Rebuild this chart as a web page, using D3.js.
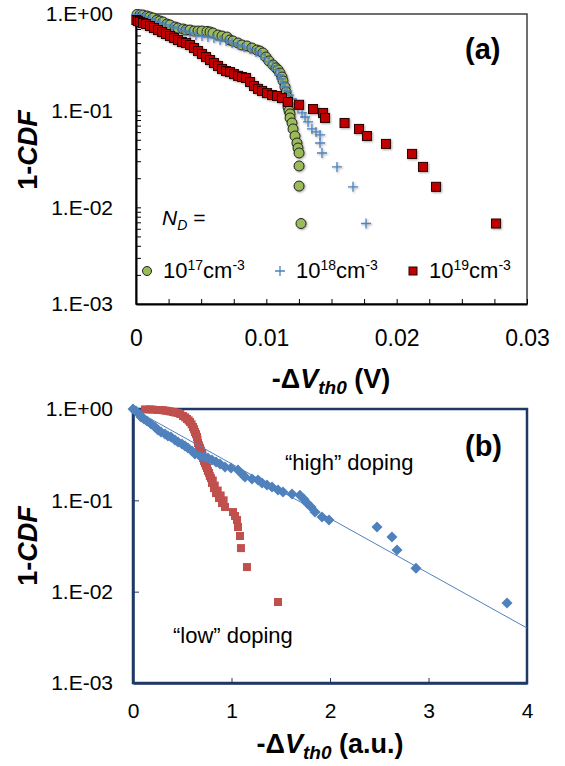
<!DOCTYPE html>
<html>
<head>
<meta charset="utf-8">
<script src="https://cdn.jsdelivr.net/npm/d3@7"></script>
<style>
body { margin: 0; background: #fff; }
svg text { font-family: "Liberation Sans", Arial, sans-serif; fill: #000; }
</style>
</head>
<body>
<div id="chart"></div>
<script>
// panel (a): 1-CDF of -dVth0 (V) for three doping levels
const nd17 = [[0.00008,0.99],[0.00031,0.98],[0.00054,0.976],[0.00084,0.953],[0.00107,0.931],[0.0013,0.909],[0.00161,0.867],[0.00184,0.846],[0.00207,0.827],[0.00238,0.788],[0.00261,0.77],[0.00299,0.734],[0.00322,0.717],[0.00361,0.7],[0.00384,0.683],[0.00414,0.683],[0.00445,0.667],[0.00476,0.667],[0.00506,0.667],[0.00545,0.66],[0.00568,0.651],[0.00591,0.636],[0.00629,0.606],[0.0066,0.592],[0.00698,0.578],[0.00721,0.538],[0.00744,0.526],[0.00783,0.501],[0.00813,0.478],[0.00852,0.467],[0.0089,0.445],[0.00928,0.424],[0.00951,0.414],[0.00974,0.395],[0.00997,0.359],[0.0102,0.327],[0.01051,0.297],[0.01074,0.277],[0.0109,0.264],[0.01105,0.245],[0.0112,0.223],[0.01128,0.203],[0.01143,0.176],[0.01151,0.156],[0.01159,0.139],[0.01159,0.129],[0.01166,0.117],[0.01166,0.109],[0.01174,0.0993],[0.01182,0.0925],[0.01182,0.0841],[0.01197,0.0746],[0.01205,0.0647],[0.0122,0.0547],[0.01235,0.0463],[0.01243,0.0411],[0.01251,0.0365],[0.01251,0.0268],[0.01251,0.0166],[0.01266,0.0068]];
const nd18 = [[0.00008,0.99],[0.00031,0.976],[0.00069,0.931],[0.00107,0.888],[0.00146,0.846],[0.00184,0.807],[0.0023,0.77],[0.00276,0.734],[0.00322,0.7],[0.00368,0.667],[0.00414,0.636],[0.0046,0.606],[0.00506,0.592],[0.00552,0.578],[0.00598,0.565],[0.00645,0.538],[0.00691,0.526],[0.00737,0.501],[0.00783,0.478],[0.00829,0.456],[0.00875,0.435],[0.00921,0.405],[0.00959,0.377],[0.0099,0.351],[0.0102,0.319],[0.01051,0.29],[0.01074,0.264],[0.01097,0.234],[0.01113,0.213],[0.01128,0.193],[0.01143,0.176],[0.01159,0.16],[0.01174,0.145],[0.01197,0.132],[0.0122,0.12],[0.01243,0.109],[0.01274,0.0947],[0.01297,0.086],[0.0132,0.0764],[0.0135,0.0647],[0.01381,0.0602],[0.01412,0.0561],[0.01412,0.0463],[0.01427,0.0365],[0.01542,0.0262],[0.01665,0.0163],[0.01765,0.0068]];
const nd19 = [[0.00003,0.867],[0.00015,0.846],[0.00031,0.827],[0.00054,0.807],[0.00077,0.788],[0.00107,0.751],[0.00138,0.717],[0.00169,0.683],[0.002,0.651],[0.0023,0.621],[0.00261,0.592],[0.00292,0.565],[0.00322,0.538],[0.00353,0.513],[0.00384,0.501],[0.00414,0.478],[0.00445,0.445],[0.00476,0.414],[0.00506,0.386],[0.00537,0.359],[0.00568,0.334],[0.00598,0.311],[0.00629,0.29],[0.0066,0.27],[0.00691,0.257],[0.00721,0.251],[0.00752,0.239],[0.00783,0.229],[0.00813,0.223],[0.00844,0.218],[0.00875,0.198],[0.00905,0.18],[0.00936,0.168],[0.00967,0.16],[0.01005,0.152],[0.01044,0.145],[0.01082,0.142],[0.0112,0.135],[0.01166,0.123],[0.01251,0.115],[0.01358,0.104],[0.01435,0.0947],[0.0145,0.0841],[0.016,0.0746],[0.01711,0.0647],[0.01772,0.0547],[0.01918,0.0453],[0.02118,0.0357],[0.02202,0.0262],[0.02302,0.0163],[0.02762,0.0068]];

// panel (b): normalised -dVth0 (a.u.)
const lowDoping = [[0.122,0.99],[0.173,0.99],[0.2,0.985],[0.254,0.975],[0.28,0.975],[0.305,0.97],[0.33,0.96],[0.355,0.951],[0.38,0.94],[0.406,0.927],[0.43,0.915],[0.457,0.904],[0.48,0.88],[0.508,0.838],[0.53,0.81],[0.548,0.777],[0.565,0.75],[0.579,0.72],[0.595,0.68],[0.609,0.635],[0.62,0.6],[0.629,0.56],[0.64,0.53],[0.65,0.494],[0.655,0.46],[0.66,0.424],[0.67,0.4],[0.68,0.374],[0.69,0.35],[0.701,0.33],[0.705,0.31],[0.711,0.291],[0.72,0.27],[0.731,0.256],[0.74,0.24],[0.751,0.226],[0.76,0.21],[0.772,0.199],[0.78,0.185],[0.792,0.175],[0.802,0.155],[0.81,0.165],[0.822,0.136],[0.83,0.145],[0.843,0.12],[0.86,0.128],[0.873,0.106],[0.89,0.113],[0.904,0.0934],[0.92,0.1],[0.934,0.0845],[1.015,0.0744],[1.036,0.0673],[1.056,0.0609],[1.066,0.051],[1.086,0.0407],[1.096,0.03],[1.157,0.0186],[1.472,0.0077]];
const highDoping = [[0,1],[0.03,0.951],[0.061,0.882],[0.081,0.817],[0.112,0.777],[0.142,0.739],[0.183,0.685],[0.223,0.635],[0.254,0.589],[0.284,0.56],[0.325,0.532],[0.355,0.506],[0.386,0.494],[0.426,0.458],[0.457,0.435],[0.497,0.414],[0.528,0.393],[0.558,0.374],[0.599,0.347],[0.629,0.321],[0.68,0.306],[0.721,0.298],[0.761,0.291],[0.802,0.276],[0.843,0.263],[0.883,0.25],[0.934,0.232],[0.995,0.226],[1.066,0.215],[1.117,0.189],[1.137,0.18],[1.208,0.171],[1.269,0.167],[1.31,0.155],[1.36,0.147],[1.411,0.14],[1.472,0.13],[1.523,0.123],[1.614,0.117],[1.695,0.114],[1.736,0.103],[1.766,0.0934],[1.807,0.0845],[1.848,0.0744],[1.919,0.0656],[1.99,0.0609],[2.477,0.051],[2.629,0.0396],[2.68,0.0286],[2.873,0.0181],[3.797,0.0075]];
const fitX = [0, 4];
const fitY = [1, 0.004];

const yTickValues = [1, 0.1, 0.01, 0.001];
const yTickLabels = ['1.E+00', '1.E-01', '1.E-02', '1.E-03'];
const xTickLabelsA = ['0', '0.01', '0.02', '0.03'];
const xTickLabelsB = ['0', '1', '2', '3', '4'];
const legendExponents = ['17', '18', '19'];

const svg = d3.select('#chart')
    .append('svg')
    .attr('width', 565)
    .attr('height', 766);

const defs = svg.append('defs');
defs.append('filter')
    .attr('id', 'shadow')
    .attr('x', '-50%').attr('y', '-50%').attr('width', '200%').attr('height', '200%')
    .append('feDropShadow')
    .attr('dx', 1).attr('dy', 1).attr('stdDeviation', 0.8)
    .attr('flood-color', '#000').attr('flood-opacity', 0.35);

const yLabel = d => {
    const i = yTickValues.findIndex(v => Math.abs(v - d) < d * 1e-6);
    return i >= 0 ? yTickLabels[i] : '';
};

function styleAxis(g, color, width, fontSize) {
    g.attr('font-family', null).attr('font-size', fontSize);
    g.select('.domain').attr('stroke', color).attr('stroke-width', width);
    g.selectAll('.tick line').attr('stroke', color).attr('stroke-width', 1);
    g.selectAll('.tick text').attr('fill', '#000');
}

// ---------- panel (a) ----------
const a = { left: 136, right: 527, top: 14, bottom: 304 };
const xA = d3.scaleLinear().domain([0, 0.03]).range([a.left, a.right]);
const yA = d3.scaleLog().domain([0.001, 1]).range([a.bottom, a.top]);

svg.append('rect')
    .attr('x', a.left).attr('y', a.top)
    .attr('width', a.right - a.left).attr('height', a.bottom - a.top)
    .attr('fill', 'none')
    .attr('stroke', '#404040')
    .attr('stroke-width', 1.5);

svg.append('g')
    .attr('transform', `translate(${a.left},0)`)
    .call(d3.axisLeft(yA).tickValues(yA.ticks()).tickSize(-5).tickSizeOuter(0)
        .tickPadding(23).tickFormat(yLabel))
    .call(g => styleAxis(g, '#000', 2, 21));

const xTicksA = d3.range(0, 13).map(i => i * 0.0025);
svg.append('g')
    .attr('transform', `translate(0,${a.bottom})`)
    .call(d3.axisBottom(xA).tickValues(xTicksA).tickSize(-5).tickSizeOuter(0)
        .tickPadding(26).tickFormat((d, i) => i % 4 === 0 ? xTickLabelsA[i / 4] : ''))
    .call(g => styleAxis(g, '#000', 2, 23));

const marksA = svg.append('g').attr('filter', 'url(#shadow)');

marksA.selectAll('.g17')
    .data(nd17)
    .join('circle')
    .attr('cx', d => xA(d[0]))
    .attr('cy', d => yA(d[1]))
    .attr('r', 5)
    .attr('fill', '#9BBB59')
    .attr('stroke', '#222')
    .attr('stroke-width', 1);

marksA.selectAll('.b18')
    .data(nd18)
    .join('path')
    .attr('transform', d => `translate(${xA(d[0])},${yA(d[1])})`)
    .attr('d', 'M-5,0H5M0,-5V5')
    .attr('stroke', '#4F81BD')
    .attr('stroke-width', 1.3)
    .attr('fill', 'none');

marksA.selectAll('.r19')
    .data(nd19)
    .join('rect')
    .attr('x', d => xA(d[0]) - 4.5)
    .attr('y', d => yA(d[1]) - 4.5)
    .attr('width', 9)
    .attr('height', 9)
    .attr('fill', '#C00000')
    .attr('stroke', '#2a0000')
    .attr('stroke-width', 1);

// N_D = and legend
const nd = svg.append('text').attr('x', 162).attr('y', 225).attr('font-size', 21);
nd.append('tspan').attr('font-style', 'italic').text('N');
nd.append('tspan').attr('font-style', 'italic').attr('font-size', 14).attr('dy', 5).text('D');
nd.append('tspan').attr('dy', -5).text(' =');

const legendX = [147, 280, 413];
const legend = svg.append('g');
legend.append('circle').attr('cx', legendX[0]).attr('cy', 271).attr('r', 4.5)
    .attr('fill', '#9BBB59').attr('stroke', '#222');
legend.append('path').attr('transform', `translate(${legendX[1]},271)`)
    .attr('d', 'M-5,0H5M0,-5V5').attr('stroke', '#4F81BD').attr('stroke-width', 1.3);
legend.append('rect').attr('x', legendX[2] - 4).attr('y', 267).attr('width', 8).attr('height', 8)
    .attr('fill', '#C00000').attr('stroke', '#2a0000');

legendExponents.forEach((e, i) => {
    const t = legend.append('text').attr('x', legendX[i] + 16).attr('y', 278).attr('font-size', 22);
    t.append('tspan').text('10');
    t.append('tspan').attr('font-size', 14).attr('dy', -8).text(e);
    t.append('tspan').attr('dy', 8).text('cm');
    t.append('tspan').attr('font-size', 14).attr('dy', -8).text('-3');
});

svg.append('text')
    .attr('x', 465).attr('y', 59)
    .attr('font-size', 29).attr('font-weight', 'bold')
    .text('(a)');

// axis titles
function xTitle(x, y, unit) {
    const t = svg.append('text')
        .attr('x', x).attr('y', y)
        .attr('text-anchor', 'middle')
        .attr('font-size', 27).attr('font-weight', 'bold');
    t.append('tspan').text('-\u0394');
    t.append('tspan').attr('font-style', 'italic').text('V');
    t.append('tspan').attr('font-style', 'italic').attr('font-size', 19).attr('dy', 6).text('th0');
    t.append('tspan').attr('dy', -6).text(' ' + unit);
}
function yTitle(cx, cy) {
    const t = svg.append('text')
        .attr('transform', `translate(${cx},${cy}) rotate(-90)`)
        .attr('text-anchor', 'middle')
        .attr('font-size', 27).attr('font-weight', 'bold');
    t.append('tspan').text('1-');
    t.append('tspan').attr('font-style', 'italic').text('CDF');
}
xTitle(331, 388, '(V)');
yTitle(37, 150);

// ---------- panel (b) ----------
const b = { left: 133, right: 527, top: 409, bottom: 683 };
const xB = d3.scaleLinear().domain([0, 4]).range([b.left, b.right]);
const yB = d3.scaleLog().domain([0.001, 1]).range([b.bottom, b.top]);

svg.append('g')
    .attr('transform', `translate(${b.left},0)`)
    .call(d3.axisLeft(yB).tickValues(yTickValues).tickSize(-6).tickSizeOuter(0)
        .tickPadding(20).tickFormat(yLabel))
    .call(g => styleAxis(g, '#1F3864', 2.5, 21));

svg.append('g')
    .attr('transform', `translate(0,${b.bottom})`)
    .call(d3.axisBottom(xB).tickValues(d3.range(0, 5)).tickSize(-5).tickSizeOuter(0)
        .tickPadding(20).tickFormat((d, i) => xTickLabelsB[i]))
    .call(g => styleAxis(g, '#1F3864', 2.5, 21));

svg.append('rect')
    .attr('x', b.left).attr('y', b.top)
    .attr('width', b.right - b.left).attr('height', b.bottom - b.top)
    .attr('fill', 'none')
    .attr('stroke', '#1F3864')
    .attr('stroke-width', 2.5);

svg.append('g').selectAll('rect')
    .data(lowDoping)
    .join('rect')
    .attr('x', d => xB(d[0]) - 4)
    .attr('y', d => yB(d[1]) - 4)
    .attr('width', 8)
    .attr('height', 8)
    .attr('fill', '#C0504D');

svg.append('g').selectAll('path')
    .data(highDoping)
    .join('path')
    .attr('transform', d => `translate(${xB(d[0])},${yB(d[1])})`)
    .attr('d', 'M0,-5.5L5.5,0L0,5.5L-5.5,0Z')
    .attr('fill', '#4F81BD');

const fit = fitX.map((x, i) => [x, fitY[i]]);
svg.append('path')
    .datum(fit)
    .attr('d', d3.line().x(d => xB(d[0])).y(d => yB(d[1])))
    .attr('stroke', '#4F81BD')
    .attr('stroke-width', 1)
    .attr('fill', 'none');

svg.append('text')
    .attr('x', 465).attr('y', 456)
    .attr('font-size', 29).attr('font-weight', 'bold')
    .text('(b)');

svg.append('text')
    .attr('x', 285).attr('y', 470)
    .attr('font-size', 22)
    .text('\u201chigh\u201d doping');

svg.append('text')
    .attr('x', 173).attr('y', 643)
    .attr('font-size', 22)
    .text('\u201clow\u201d doping');

xTitle(330, 753, '(a.u.)');
yTitle(37, 546);
</script>
</body>
</html>
